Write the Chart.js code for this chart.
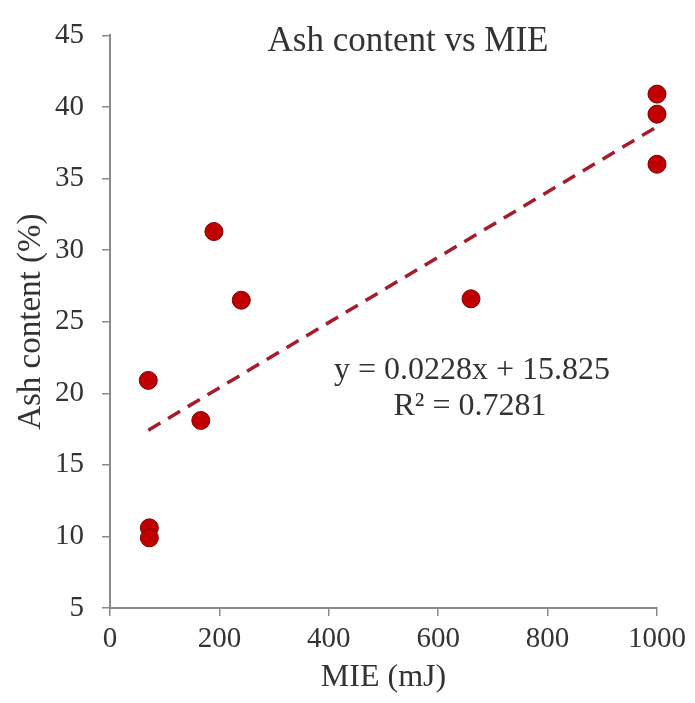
<!DOCTYPE html>
<html>
<head>
<meta charset="utf-8">
<script src="https://cdn.jsdelivr.net/npm/chart.js@4/dist/chart.umd.min.js"></script>
<style>
  html, body { margin: 0; padding: 0; background: #fff; }
  #wrap { width: 695px; height: 703px; }
</style>
</head>
<body>
<div id="wrap"><canvas id="ashChart" width="695" height="703"></canvas></div>
<script>
// values
const mieValues = [70, 72, 72, 166, 190, 240, 660, 1000, 1000, 1000];
const ashValues = [20.9, 10.6, 9.9, 18.1, 31.3, 26.5, 26.6, 40.9, 39.5, 36.0];

// trendline from the equation printed on the chart
const trendSlope = 0.0228;
const trendIntercept = 15.825;
const trendX = [70, 1000];

const xTicks = [0, 200, 400, 600, 800, 1000];
const yTicks = [5, 10, 15, 20, 25, 30, 35, 40, 45];

const titleText = 'Ash content vs MIE';
const eqLines = ['y = 0.0228x + 15.825', 'R\u00b2 = 0.7281'];

const serif = '"Liberation Serif", "DejaVu Serif", serif';
const textColor = '#333';
const axisColor = '#8a8a8a';

const points = mieValues.map((x, i) => ({ x: x, y: ashValues[i] }));
const trendPoints = trendX.map(x => ({ x: x, y: trendSlope * x + trendIntercept }));

// title and equation sit inside the plot area
const textPlugin = {
  id: 'innerText',
  afterDraw(chart) {
    const ctx = chart.ctx;
    ctx.save();
    ctx.fillStyle = textColor;
    ctx.textAlign = 'center';
    ctx.textBaseline = 'middle';
    ctx.font = '35px ' + serif;
    ctx.fillText(titleText, 408, 42);
    ctx.font = '32px ' + serif;
    ctx.fillText(eqLines[0], 472, 371);
    ctx.fillText(eqLines[1], 470, 407);
    ctx.restore();
  }
};

const ctx = document.getElementById('ashChart').getContext('2d');
new Chart(ctx, {
  type: 'scatter',
  data: {
    datasets: [
      {
        label: 'Ash content',
        data: points,
        backgroundColor: '#c00000',
        borderColor: '#7a0000',
        borderWidth: 1,
        pointRadius: 9,
        pointHoverRadius: 9,
        clip: false,
        order: 1
      },
      {
        type: 'line',
        label: 'Linear fit',
        data: trendPoints,
        borderColor: '#a51d2d',
        borderWidth: 3.5,
        borderDash: [14, 9],
        pointRadius: 0,
        fill: false,
        clip: false,
        order: 2
      }
    ]
  },
  options: {
    responsive: false,
    animation: false,
    layout: { padding: { top: 30, right: 38, left: 0, bottom: 0 } },
    plugins: {
      legend: { display: false },
      tooltip: { enabled: false }
    },
    scales: {
      x: {
        type: 'linear',
        min: 0,
        max: 1000,
        afterBuildTicks: s => { s.ticks = xTicks.map(v => ({ value: v })); },
        afterFit: s => { s.height = 95; },
        grid: { display: true, drawOnChartArea: false, drawTicks: true, tickLength: 8, color: axisColor, lineWidth: 1.5 },
        border: { display: true, color: axisColor, width: 2 },
        ticks: { color: textColor, font: { family: serif, size: 29 }, padding: 6, callback: v => String(v) },
        title: { display: true, text: 'MIE (mJ)', color: textColor, font: { family: serif, size: 32 }, padding: { top: 0, bottom: 6 } }
      },
      y: {
        type: 'linear',
        min: 5,
        max: 45,
        afterBuildTicks: s => { s.ticks = yTicks.map(v => ({ value: v })); },
        afterFit: s => { s.width = 110; },
        grid: { display: true, drawOnChartArea: false, drawTicks: true, tickLength: 8, color: axisColor, lineWidth: 1.5 },
        border: { display: true, color: axisColor, width: 2 },
        ticks: { color: textColor, font: { family: serif, size: 29 }, padding: 18, callback: v => String(v) },
        title: { display: true, text: 'Ash content (%)', color: textColor, font: { family: serif, size: 33 }, padding: { top: 12, bottom: 4 } }
      }
    }
  },
  plugins: [textPlugin]
});
</script>
</body>
</html>
